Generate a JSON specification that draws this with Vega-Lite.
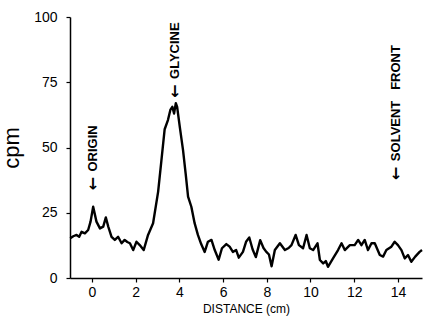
{
  "$schema": "https://vega.github.io/schema/vega-lite/v6.json",
  "autosize": "none",
  "padding": {"left": 70, "top": 17, "right": 2, "bottom": 45},
  "width": 352,
  "height": 261,
  "background": "white",
  "config": {
    "view": {"stroke": null},
    "font": "Liberation Sans",
    "axis": {"grid": false, "domainColor": "black", "domainWidth": 1.5, "tickColor": "black", "tickWidth": 1.2, "labelColor": "black", "titleColor": "black", "labelFont": "Liberation Sans", "titleFont": "Liberation Sans", "titleFontWeight": "normal"}
  },
  "datasets": {
    "trace": [
      {"d": -0.99, "cpm": 15.2}, {"d": -0.85, "cpm": 16.0}, {"d": -0.7, "cpm": 16.5}, {"d": -0.58, "cpm": 15.8},
      {"d": -0.47, "cpm": 17.7}, {"d": -0.32, "cpm": 17.1}, {"d": -0.17, "cpm": 18.4}, {"d": -0.06, "cpm": 21.6},
      {"d": 0.06, "cpm": 27.3}, {"d": 0.21, "cpm": 21.6}, {"d": 0.37, "cpm": 19}, {"d": 0.52, "cpm": 19.7},
      {"d": 0.64, "cpm": 23.2}, {"d": 0.75, "cpm": 19.7}, {"d": 0.9, "cpm": 15.8}, {"d": 1.05, "cpm": 14.6},
      {"d": 1.2, "cpm": 15.8}, {"d": 1.36, "cpm": 13.3}, {"d": 1.5, "cpm": 14.6}, {"d": 1.62, "cpm": 13.8},
      {"d": 1.74, "cpm": 13.3}, {"d": 1.89, "cpm": 10.7}, {"d": 2.04, "cpm": 13.9}, {"d": 2.19, "cpm": 12.6},
      {"d": 2.37, "cpm": 10.7}, {"d": 2.57, "cpm": 16.5}, {"d": 2.8, "cpm": 21}, {"d": 3.03, "cpm": 33},
      {"d": 3.18, "cpm": 45}, {"d": 3.33, "cpm": 57}, {"d": 3.48, "cpm": 60.5}, {"d": 3.59, "cpm": 64.4},
      {"d": 3.68, "cpm": 65.6}, {"d": 3.76, "cpm": 63}, {"d": 3.84, "cpm": 67}, {"d": 3.9, "cpm": 65.6},
      {"d": 4.02, "cpm": 58}, {"d": 4.17, "cpm": 49}, {"d": 4.29, "cpm": 40}, {"d": 4.4, "cpm": 31.2},
      {"d": 4.55, "cpm": 27.3}, {"d": 4.7, "cpm": 21}, {"d": 4.85, "cpm": 16.5}, {"d": 5.0, "cpm": 13},
      {"d": 5.16, "cpm": 10}, {"d": 5.31, "cpm": 13.9}, {"d": 5.47, "cpm": 14.6}, {"d": 5.62, "cpm": 10.7},
      {"d": 5.8, "cpm": 7}, {"d": 5.95, "cpm": 11.4}, {"d": 6.15, "cpm": 13}, {"d": 6.3, "cpm": 12},
      {"d": 6.45, "cpm": 10}, {"d": 6.6, "cpm": 10.7}, {"d": 6.72, "cpm": 7.8}, {"d": 6.91, "cpm": 10},
      {"d": 7.06, "cpm": 14}, {"d": 7.2, "cpm": 15.5}, {"d": 7.35, "cpm": 11}, {"d": 7.5, "cpm": 8},
      {"d": 7.7, "cpm": 14.5}, {"d": 7.85, "cpm": 11.5}, {"d": 7.98, "cpm": 10}, {"d": 8.1, "cpm": 9},
      {"d": 8.22, "cpm": 4.5}, {"d": 8.37, "cpm": 10.7}, {"d": 8.6, "cpm": 13.3}, {"d": 8.83, "cpm": 10.7},
      {"d": 9.0, "cpm": 11.5}, {"d": 9.13, "cpm": 12.6}, {"d": 9.32, "cpm": 16.5}, {"d": 9.47, "cpm": 12.6},
      {"d": 9.66, "cpm": 11.4}, {"d": 9.82, "cpm": 16.5}, {"d": 9.97, "cpm": 11.4}, {"d": 10.12, "cpm": 10.7},
      {"d": 10.32, "cpm": 13.3}, {"d": 10.43, "cpm": 6.9}, {"d": 10.58, "cpm": 5.6}, {"d": 10.7, "cpm": 6.5},
      {"d": 10.8, "cpm": 4.3}, {"d": 11.03, "cpm": 7.5}, {"d": 11.26, "cpm": 10.7}, {"d": 11.42, "cpm": 13.3},
      {"d": 11.57, "cpm": 10.7}, {"d": 11.8, "cpm": 12.6}, {"d": 12.02, "cpm": 12.6}, {"d": 12.18, "cpm": 14.6},
      {"d": 12.33, "cpm": 12.6}, {"d": 12.48, "cpm": 14.6}, {"d": 12.63, "cpm": 10.7}, {"d": 12.79, "cpm": 13.3},
      {"d": 12.94, "cpm": 13.3}, {"d": 13.17, "cpm": 8.8}, {"d": 13.32, "cpm": 8.2}, {"d": 13.47, "cpm": 10.7},
      {"d": 13.7, "cpm": 12}, {"d": 13.85, "cpm": 13.9}, {"d": 14.0, "cpm": 12.6}, {"d": 14.16, "cpm": 10.7},
      {"d": 14.31, "cpm": 7.5}, {"d": 14.46, "cpm": 8.8}, {"d": 14.61, "cpm": 6.2}, {"d": 14.79, "cpm": 8.2},
      {"d": 14.99, "cpm": 10}, {"d": 15.1, "cpm": 10.7}
    ],
    "labels": [
      {"d": 0.05, "cpm": 33.5, "label": "ORIGIN"},
      {"d": 3.8, "cpm": 69, "label": "GLYCINE"},
      {"d": 13.9, "cpm": 37.5, "label": "SOLVENT\u00a0\u00a0\u00a0FRONT"}
    ]
  },
  "layer": [
    {
      "data": {"name": "trace"},
      "mark": {"type": "line", "color": "black", "strokeWidth": 2.4, "strokeJoin": "round"},
      "encoding": {
        "x": {"field": "d", "type": "quantitative", "scale": {"domain": [-1, 15.1], "nice": false, "zero": false},
              "axis": {"values": [0, 2, 4, 6, 8, 10, 12, 14], "title": "DISTANCE (cm)", "titleFontSize": 12, "labelFontSize": 14, "tickSize": 4, "labelPadding": 3, "titlePadding": 4}},
        "y": {"field": "cpm", "type": "quantitative", "scale": {"domain": [0, 100], "nice": false},
              "axis": {"values": [0, 25, 50, 75, 100], "title": "cpm", "titleFontSize": 22, "labelFontSize": 14, "tickSize": 4, "labelPadding": 9, "titlePadding": 10}}
      }
    },
    {
      "data": {"name": "labels"},
      "mark": {"type": "text", "angle": 270, "align": "left", "baseline": "middle", "fontSize": 16, "color": "black", "font": "DejaVu Sans", "fontWeight": "bold", "text": "←"},
      "encoding": {
        "x": {"field": "d", "type": "quantitative"},
        "y": {"field": "cpm", "type": "quantitative"}
      }
    },
    {
      "data": {"name": "labels"},
      "mark": {"type": "text", "angle": 270, "align": "left", "baseline": "middle", "dx": 19, "fontSize": 13, "fontWeight": "bold", "color": "black", "font": "Liberation Sans"},
      "encoding": {
        "x": {"field": "d", "type": "quantitative"},
        "y": {"field": "cpm", "type": "quantitative"},
        "text": {"field": "label"}
      }
    }
  ]
}
